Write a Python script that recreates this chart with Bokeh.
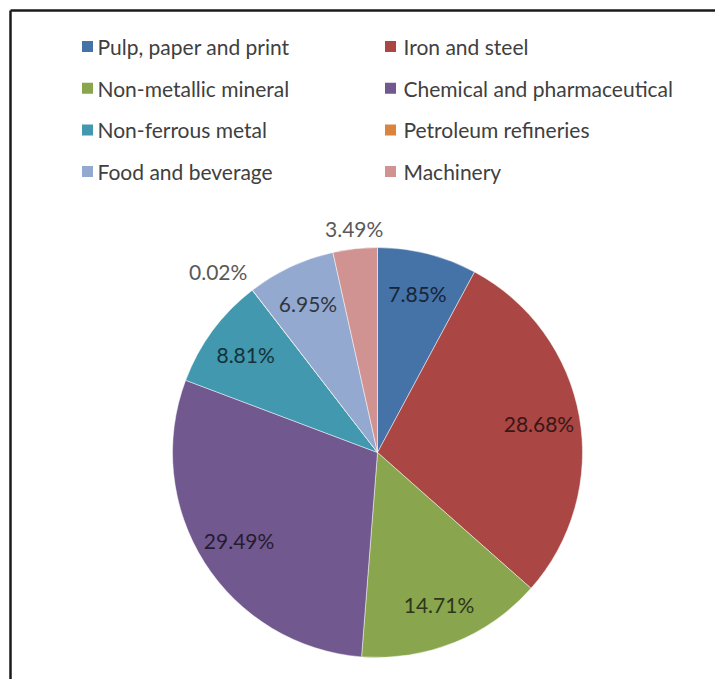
import numpy as np
from bokeh.plotting import figure
from bokeh.models import Range1d, ColumnDataSource
from bokeh.embed import file_html
from bokeh.resources import INLINE
from bokeh.core.properties import value

# ---- data ----
categories = ["Pulp, paper and print", "Iron and steel", "Non-metallic mineral",
              "Chemical and pharmaceutical", "Non-ferrous metal", "Petroleum refineries",
              "Food and beverage", "Machinery"]
shares = [7.85, 28.68, 14.71, 29.49, 8.81, 0.02, 6.95, 3.49]
colors = ["#4572A7", "#AA4643", "#89A54E", "#71588F", "#4198AF", "#DB843D", "#93A9CF", "#D19392"]

# ---- layout (pixels measured from top-left) ----
W, H = 715, 679
CX, CY_TOP, R = 377, 452, 205
CY = H - CY_TOP
FONT = "Lato"

p = figure(width=W, height=H, x_range=Range1d(0, W), y_range=Range1d(0, H),
           output_backend="svg", toolbar_location=None,
           x_axis_location=None, y_axis_location=None, min_border=0)
p.grid.visible = False
p.outline_line_color = None
p.background_fill_color = "white"
p.border_fill_color = "white"

vals = np.array(shares, dtype=float)
frac = vals / vals.sum()
cum_end = np.cumsum(frac)
cum_start = cum_end - frac

src = ColumnDataSource(dict(
    start=np.pi / 2 - 2 * np.pi * cum_end,
    end=np.pi / 2 - 2 * np.pi * cum_start,
    color=colors,
))
p.wedge(x=CX, y=CY, radius=R, start_angle="start", end_angle="end",
        direction="anticlock", fill_color="color", line_color="white",
        line_alpha=0.6, line_width=0.8, source=src)

# ---- data labels ----
theta = 2 * np.pi * (cum_start + frac / 2)
dx, dy = np.sin(theta), np.cos(theta)
texts = ["%.2f%%" % v for v in shares]


def darken(hexc, f=0.33):
    r, g, b = (int(hexc[i:i + 2], 16) for i in (1, 3, 5))
    return "#%02x%02x%02x" % (int(r * f), int(g * f), int(b * f))


for i, t in enumerate(texts):
    if frac[i] >= 0.05:
        rr = 0.80 * R
        p.text(x=[CX + rr * dx[i]], y=[CY + rr * dy[i]], text=[t],
               text_font=value(FONT), text_font_size="21px",
               text_color=darken(colors[i]), text_align="center",
               text_baseline="middle")
    else:
        rr = 1.04 * R
        align = "center" if abs(dx[i]) < 0.3 else ("right" if dx[i] < 0 else "left")
        base = "bottom" if dy[i] > 0.3 else ("top" if dy[i] < -0.3 else "middle")
        p.text(x=[CX + rr * dx[i]], y=[CY + rr * dy[i]], text=[t],
               text_font=value(FONT), text_font_size="21px",
               text_color="#595959", text_align=align, text_baseline=base)

# ---- legend (two columns, row-major) ----
col_sq_x = [87, 390]
col_tx_x = [97, 403]
row_y0, row_dy = 46, 41.7
idx = np.arange(len(categories))
rows, cols = idx // 2, idx % 2
leg = ColumnDataSource(dict(
    sx=[col_sq_x[c] for c in cols],
    tx=[col_tx_x[c] for c in cols],
    y=[H - (row_y0 + row_dy * r) for r in rows],
    name=categories,
    color=colors,
))
p.rect(x="sx", y="y", width=11, height=11, fill_color="color", line_color=None, source=leg)
p.text(x="tx", y="y", text="name", text_font=value(FONT), text_font_size="21px",
       text_color="#404040", text_align="left", text_baseline="middle", source=leg)

# ---- frame lines (top and left edges visible) ----
p.segment(x0=[10, 10], y0=[H - 10, H - 10], x1=[W, 10], y1=[H - 10, 0],
          line_color="#1a1a1a", line_width=2.5)

open("out.html", "w").write(file_html(p, INLINE))
